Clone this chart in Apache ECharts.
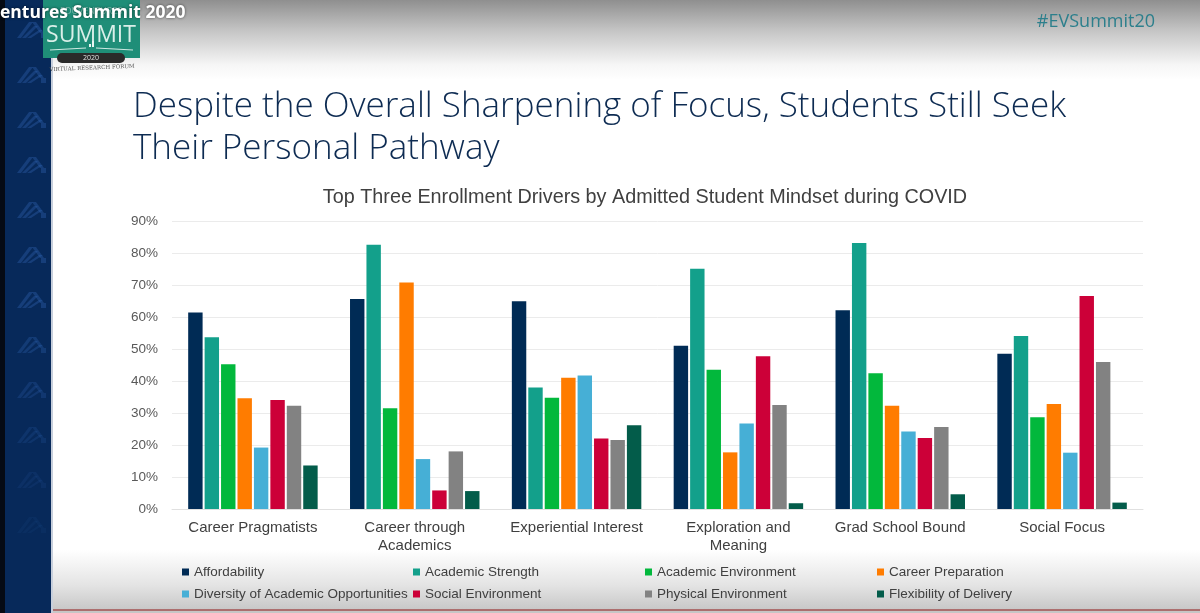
<!DOCTYPE html>
<html>
<head>
<meta charset="utf-8">
<script src="https://cdn.jsdelivr.net/npm/echarts@6/dist/echarts.min.js"></script>
<style>
  html, body { margin: 0; padding: 0; }
  body {
    width: 1200px; height: 613px; overflow: hidden;
    background: linear-gradient(to bottom, #8f8f8f 0px, #c4c4c4 30px, #f6f6f6 65px, #ffffff 80px, #ffffff 550px, #e4e4e4 585px, #c6c6c6 611px);
  }
  #chart { width: 1200px; height: 613px; }
</style>
</head>
<body>
<div id="chart"></div>
<script>
// mindset groups on the x axis
const categories = ['Career Pragmatists', 'Career through\nAcademics', 'Experiential Interest', 'Exploration and\nMeaning', 'Grad School Bound', 'Social Focus'];
const yTicks = [0, 10, 20, 30, 40, 50, 60, 70, 80, 90];

// share of students naming each driver (%), one value per mindset
const affordability = [61.4, 65.6, 64.9, 51.0, 62.1, 48.5];
const academicStrength = [53.7, 82.6, 38.0, 75.1, 83.1, 54.1];
const academicEnvironment = [45.2, 31.5, 34.8, 43.5, 42.4, 28.7];
const careerPreparation = [34.6, 70.8, 41.0, 17.7, 32.3, 32.8];
const diversityOfOpportunities = [19.2, 15.6, 41.7, 26.7, 24.2, 17.6];
const socialEnvironment = [34.1, 5.8, 22.0, 47.7, 22.2, 66.6];
const physicalEnvironment = [32.3, 18.0, 21.6, 32.5, 25.6, 45.9];
const flexibilityOfDelivery = [13.6, 5.6, 26.2, 1.8, 4.6, 2.0];

const DRIVERS = [
  { name: 'Affordability', color: '#002b55', data: affordability },
  { name: 'Academic Strength', color: '#13a08b', data: academicStrength },
  { name: 'Academic Environment', color: '#02b83c', data: academicEnvironment },
  { name: 'Career Preparation', color: '#ff7c00', data: careerPreparation },
  { name: 'Diversity of Academic Opportunities', color: '#46afd6', data: diversityOfOpportunities },
  { name: 'Social Environment', color: '#cc0038', data: socialEnvironment },
  { name: 'Physical Environment', color: '#828282', data: physicalEnvironment },
  { name: 'Flexibility of Delivery', color: '#035c4a', data: flexibilityOfDelivery },
];

const chart = echarts.init(document.getElementById('chart'), null, { renderer: 'canvas' });

const legendText = { color: '#404040', fontSize: 13.5, fontFamily: 'Liberation Sans, Arial, sans-serif' };
const legendCols = [[0, 4], [1, 5], [2, 6], [3, 7]];
const legendLeft = [182, 413, 645, 877];
const legends = legendCols.map((ids, i) => ({
  orient: 'vertical',
  left: legendLeft[i],
  top: 565,
  itemWidth: 7,
  itemHeight: 7,
  itemGap: 8,
  icon: 'rect',
  selectedMode: false,
  padding: 0,
  textStyle: legendText,
  data: ids.map((k) => DRIVERS[k].name),
}));

// left navy strip with faint chevron marks
const marks = [];
for (let k = 0; k < 12; k++) {
  const y = 22 + k * 45;
  const op = k < 7 ? 0.42 : Math.max(0.1, 0.42 - (k - 6) * 0.07);
  marks.push({
    type: 'group',
    x: 15, y: y,
    silent: true,
    children: [0, 1, 2].map((s) => ({
      type: 'polygon',
      shape: { points: [[14 + s * 5, 0 + s * 4], [18 + s * 5, 0 + s * 4], [6 + s * 5, 16], [2 + s * 5, 16]] },
      style: { fill: '#2a5ea8', opacity: op },
    })).concat([{
      type: 'polygon',
      shape: { points: [[17, 0], [21, 0], [29, 11], [25, 11]] },
      style: { fill: '#2a5ea8', opacity: op },
    }, {
      type: 'rect',
      shape: { x: 26, y: 11, width: 5, height: 5 },
      style: { fill: '#2a5ea8', opacity: op },
    }]),
  });
}

const graphics = [
  { type: 'rect', silent: true, shape: { x: 0, y: 0, width: 5, height: 613 }, style: { fill: '#050a14' } },
  { type: 'rect', silent: true, shape: { x: 5, y: 0, width: 46, height: 613 }, style: { fill: '#07295a' } },
  { type: 'rect', silent: true, shape: { x: 51, y: 0, width: 2, height: 613 }, style: { fill: '#c7cfdc' } },
  ...marks,
  // logo
  { type: 'rect', silent: true, shape: { x: 43, y: 0, width: 97, height: 58 }, style: { fill: '#1f8e78' } },
  { type: 'text', silent: true, x: 91, y: 7, style: { text: 'EDUVENTURES', fill: 'rgba(220,240,235,0.5)', fontSize: 9, fontFamily: 'Open Sans', align: 'center', verticalAlign: 'top' } },
  { type: 'text', silent: true, x: 91, y: 35, style: { text: 'SUMMIT', fill: '#d9efe9', fontSize: 23, fontFamily: 'Open Sans', align: 'center', verticalAlign: 'middle' } },
  { type: 'line', silent: true, shape: { x1: 50, y1: 50, x2: 86, y2: 48 }, style: { stroke: '#cfe9e2', lineWidth: 1 } },
  { type: 'line', silent: true, shape: { x1: 96, y1: 48, x2: 133, y2: 50 }, style: { stroke: '#cfe9e2', lineWidth: 1 } },
  { type: 'rect', silent: true, shape: { x: 89, y: 44, width: 2, height: 3 }, style: { fill: '#e8f5f1' } },
  { type: 'rect', silent: true, shape: { x: 92, y: 41, width: 2, height: 6 }, style: { fill: '#e8f5f1' } },
  { type: 'rect', silent: true, shape: { x: 57, y: 53, width: 68, height: 10, r: 6 }, style: { fill: '#2a2a2a' } },
  { type: 'text', silent: true, x: 91, y: 58, style: { text: '2020', fill: '#e0e0e0', fontSize: 7, fontFamily: 'Open Sans', align: 'center', verticalAlign: 'middle' } },
  { type: 'text', silent: true, x: 92, y: 68, rotation: 0.04, style: { text: 'VIRTUAL RESEARCH FORUM', fill: '#555', fontSize: 5.5, fontFamily: 'DejaVu Serif', align: 'center', verticalAlign: 'middle' } },
  // video overlay title
  { type: 'text', silent: true, x: 0, y: 4, style: { text: 'entures Summit 2020', fill: '#ffffff', fontSize: 17.5, fontWeight: 'bold', fontFamily: 'Open Sans', textShadowColor: 'rgba(0,0,0,0.6)', textShadowBlur: 3 } },
  { type: 'text', silent: true, right: 45, top: 13, style: { text: '#EVSummit20', fill: '#2c7f8c', fontSize: 18, fontFamily: 'Open Sans' } },
  // slide heading
  { type: 'text', silent: true, x: 133, y: 86, style: { text: 'Despite the Overall Sharpening of Focus, Students Still Seek\nTheir Personal Pathway', fill: '#0d2b52', fontSize: 35, lineHeight: 42, fontFamily: 'Open Sans', fontWeight: 300 } },
  { type: 'rect', silent: true, shape: { x: 53, y: 609, width: 1147, height: 2 }, style: { fill: '#a04848', opacity: 0.7 } },
];

const series = DRIVERS.map((d) => ({
  name: d.name,
  type: 'bar',
  barGap: '14%',
  barCategoryGap: '20%',
  itemStyle: { color: d.color },
  data: d.data,
}));

chart.setOption({
  backgroundColor: 'transparent',
  animation: false,
  textStyle: { fontFamily: 'Liberation Sans, Arial, sans-serif' },
  title: {
    text: 'Top Three Enrollment Drivers by Admitted Student Mindset during COVID',
    left: 640,
    textAlign: 'center',
    top: 183,
    textStyle: { color: '#404040', fontSize: 19.8, fontWeight: 'normal', fontFamily: 'Liberation Sans, Arial, sans-serif' },
  },
  legend: legends,
  grid: { left: 172, right: 57, top: 221, bottom: 104 },
  xAxis: {
    type: 'category',
    data: categories,
    axisTick: { show: false },
    axisLine: { lineStyle: { color: '#e0e0e0' } },
    axisLabel: { color: '#404040', fontSize: 15, lineHeight: 18, margin: 10, interval: 0 },
  },
  yAxis: {
    type: 'value',
    min: yTicks[0],
    max: yTicks[yTicks.length - 1],
    interval: 10,
    axisLine: { show: false },
    axisTick: { show: false },
    axisLabel: { color: '#595959', fontSize: 13.5, margin: 14, formatter: '{value}%' },
    splitLine: { lineStyle: { color: '#ebebeb' } },
  },
  graphic: graphics,
  series,
});
</script>
</body>
</html>
